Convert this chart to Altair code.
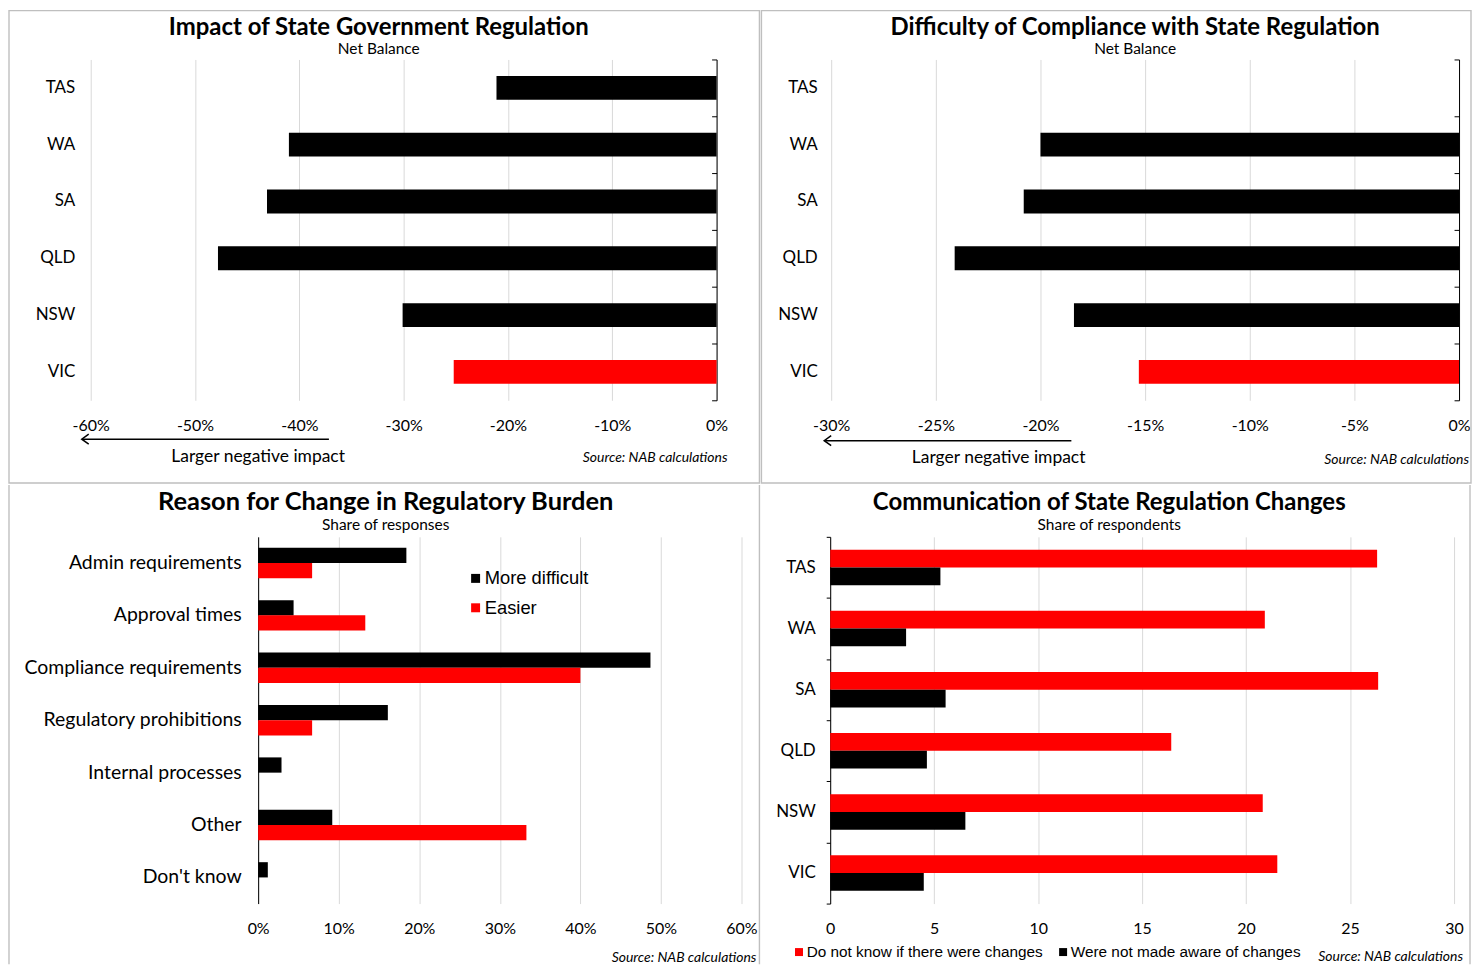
import altair as alt
import pandas as pd

# ---------------- data ----------------
states = ["TAS", "WA", "SA", "QLD", "NSW", "VIC"]
impact = [-21.1, -41.0, -43.1, -47.8, -30.1, -25.2]
difficulty = [0.0, -20.0, -20.8, -24.1, -18.4, -15.3]

reasons = ["Admin requirements", "Approval times", "Compliance requirements",
           "Regulatory prohibitions", "Internal processes", "Other", "Don't know"]
more_difficult = [18.4, 4.4, 48.7, 16.1, 2.9, 9.2, 1.2]
easier = [6.7, 13.3, 40.0, 6.7, 0.0, 33.3, 0.0]
series3 = ["More difficult", "Easier"]

comm_states = ["TAS", "WA", "SA", "QLD", "NSW", "VIC"]
dont_know = [26.3, 20.9, 26.35, 16.4, 20.8, 21.5]
not_aware = [5.3, 3.65, 5.55, 4.65, 6.5, 4.5]
series4 = ["Do not know if there were changes", "Were not made aware of changes"]

ticks_p1 = [-60, -50, -40, -30, -20, -10, 0]
ticks_p2 = [-30, -25, -20, -15, -10, -5, 0]
ticks_p3 = [0, 10, 20, 30, 40, 50, 60]
ticks_p4 = [0, 5, 10, 15, 20, 25, 30]

FONT = "Lato"
LEGFONT = "Liberation Sans"
GRID = "#d9d9d9"
BORDER = "#bfbfbf"


def one():
    return alt.Data(values=[{"k": 0}])


def frame(x1, x2, y1, y2):
    return alt.Chart(one()).mark_rect(
        fill="transparent", stroke=BORDER, strokeWidth=1.4
    ).encode(x=alt.value(x1), x2=alt.value(x2), y=alt.value(y1), y2=alt.value(y2))


def bounds_box(x1, x2, y1, y2):
    return alt.Chart(one()).mark_rect(fill="transparent", strokeWidth=0).encode(
        x=alt.value(x1), x2=alt.value(x2), y=alt.value(y1), y2=alt.value(y2))


def vline(x, y1, y2):
    return alt.Chart(one()).mark_rule(color=BORDER, strokeWidth=1.4).encode(
        x=alt.value(x), y=alt.value(y1), y2=alt.value(y2))


def note(txt, x, y, align="center", size=16, style="normal", weight="normal",
         baseline="middle"):
    return alt.Chart(one()).mark_text(
        text=txt, align=align, baseline=baseline, font=FONT, fontSize=size,
        fontStyle=style, fontWeight=weight, color="black"
    ).encode(x=alt.value(x), y=alt.value(y))


def heading(title, sub, x, y_title, y_sub, size):
    return [note(title, x, y_title, size=size, weight="bold", baseline="alphabetic"),
            note(sub, x, y_sub, size=15.5, baseline="alphabetic")]


def arrow(x_tip, x_end, y):
    shaft = alt.Chart(one()).mark_rule(color="black", strokeWidth=1.5).encode(
        x=alt.value(x_tip + 1), x2=alt.value(x_end), y=alt.value(y))
    head = alt.Chart(one()).mark_point(
        shape="M 0.4 -1 L -1 0 L 0.4 1", size=100, filled=False,
        color="black", strokeWidth=1.5, opacity=1
    ).encode(x=alt.value(x_tip + 5), y=alt.value(y))
    return [shaft, head]


def xaxis(vals, fmt_pct=True):
    kw = dict(values=vals, domain=False, ticks=False, grid=True, gridColor=GRID,
              gridWidth=1, labelPadding=17, labelFont=FONT, labelFontSize=16,
              labelColor="black", labelFlush=False, labelOverlap=False, title=None)
    if fmt_pct:
        kw["labelExpr"] = "datum.value + '%'"
    else:
        kw["format"] = "d"
    return alt.Axis(**kw)


def net_panel(values, tick_vals, W, H, title, tpos, label_pad, box, arr, txt, src):
    df = pd.DataFrame({"state": states, "value": values})
    base = alt.Chart(df)
    x = alt.X("value:Q", scale=alt.Scale(domain=[tick_vals[0], tick_vals[-1]], nice=False),
              axis=xaxis(tick_vals))
    bars = base.transform_filter(alt.datum.value != 0).mark_bar().encode(
        x=x,
        y=alt.Y("state:N", sort=states, scale=alt.Scale(domain=states, paddingInner=0.58,
                                                       paddingOuter=0.29),
                axis=alt.Axis(orient="left", domain=False, ticks=False, labelPadding=label_pad,
                              labelFont=FONT, labelFontSize=17, labelColor="black", title=None)),
        color=alt.condition(alt.datum.state == "VIC", alt.value("#ff0000"), alt.value("#000000")),
    )
    # invisible layer carrying the value-axis line at 0% with ticks at category boundaries
    axisline = base.mark_bar(opacity=0).encode(
        x=x,
        y=alt.Y("state:N", sort=states, scale=alt.Scale(domain=states, paddingInner=0,
                                                       paddingOuter=0),
                axis=alt.Axis(orient="left", offset=-W, labels=False, domain=True,
                              domainColor="black", domainWidth=1, ticks=True, tickBand="extent",
                              tickSize=5, tickColor="black", title=None)),
    )
    layers = [frame(*box), axisline, bars] + arrow(*arr) + [
        note("Larger negative impact", txt[0], txt[1], size=17.5),
        note("Source: NAB calculations", src[0], src[1], align="right", size=14, style="italic"),
    ] + heading(title[0], title[1], *tpos)
    return (alt.layer(*layers).resolve_scale(y="independent").resolve_axis(y="independent")
            .properties(width=W, height=H))


p1 = net_panel(impact, ticks_p1, 628, 342,
               ("Impact of State Government Regulation", "Net Balance"),
               (289, -25, -5.3, 24), 16,
               (-82, 671, -49, 425), (-9, 239, 381), (168, 399), (639, 400))
p2 = net_panel(difficulty, ticks_p2, 630, 342,
               ("Difficulty of Compliance with State Regulation", "Net Balance"),
               (305, -25, -5.3, 24), 14,
               (-70, 642, -49, 425), (-7, 241, 382.5), (168, 400), (640, 402))


def paired_bars(df, cat, cats, sfield, snames, colors, x, y_axis, legend, half, bar_h):
    # band scale without padding: ticks sit on category boundaries, bars sized explicitly
    y = alt.Y(f"{cat}:N", sort=cats, scale=alt.Scale(paddingInner=0, paddingOuter=0),
              axis=y_axis)
    color = alt.Color(f"{sfield}:N", scale=alt.Scale(domain=snames, range=colors), legend=legend)
    layers = []
    for name, off in zip(snames, (-half, half)):
        layers.append(
            alt.Chart(df).transform_filter(alt.datum[sfield] == name)
            .mark_bar(height=bar_h, yOffset=off)
            .encode(x=x, y=y, color=color)
        )
    return layers


# ---------- panel 3 (plot origin extended left so both columns share an origin) ----------
rows3 = []
for i, r in enumerate(reasons):
    rows3.append({"reason": r, "series": series3[0], "value": more_difficult[i]})
    rows3.append({"reason": r, "series": series3[1], "value": easier[i]})
df3 = pd.DataFrame(rows3)

W3 = 653
ZERO3 = 168  # pixel position of 0% inside the widened plot
x3_min = -ZERO3 * 60.0 / (W3 - ZERO3)

x3 = alt.X("value:Q", scale=alt.Scale(domain=[x3_min, 60], nice=False, zero=False),
           axis=xaxis(ticks_p3))
y3_axis = alt.Axis(orient="left", offset=-ZERO3, domain=True, domainColor="black",
                   domainWidth=1, ticks=False, labelPadding=17, labelFont=FONT,
                   labelFontSize=19.5, labelLimit=400, labelColor="black", title=None)
leg3 = alt.Legend(orient="none", legendX=377, legendY=32.5, title=None,
                  symbolType="square", symbolSize=81, symbolStrokeWidth=0,
                  labelFont=LEGFONT, labelFontSize=18.4, labelColor="black",
                  labelOffset=0, rowPadding=10.5, padding=0)
bars3 = paired_bars(df3, "reason", reasons, "series", series3, ["#000000", "#ff0000"],
                    x3, y3_axis, leg3, 7.6, 15.3)

p3 = alt.layer(
    bounds_box(-82, 671, -52, 429), vline(-82, -52, 429), vline(671, -52, 429), *bars3,
    note("Source: NAB calculations", 668, 423, align="right", size=14, style="italic"),
    *heading("Reason for Change in Regulatory Burden", "Share of responses", 296, -27.3, -7.3, 25.5),
).properties(width=W3, height=368)

# ---------- panel 4 ----------
rows4 = []
for i, s in enumerate(comm_states):
    rows4.append({"state": s, "group": series4[0], "value": dont_know[i]})
    rows4.append({"state": s, "group": series4[1], "value": not_aware[i]})
df4 = pd.DataFrame(rows4)

x4 = alt.X("value:Q", scale=alt.Scale(domain=[0, 30], nice=False), axis=xaxis(ticks_p4, False))
y4_axis = alt.Axis(domain=True, domainColor="black", domainWidth=1, ticks=True,
                   tickBand="extent", tickSize=4, tickColor="black", labelPadding=11,
                   labelFont=FONT, labelFontSize=17, labelColor="black", title=None)
leg4 = alt.Legend(orient="none", direction="horizontal", legendX=-39,
                  legendY=408.5, title=None, symbolType="square",
                  symbolSize=64, symbolStrokeWidth=0, labelFont=LEGFONT,
                  labelFontSize=15.4, labelColor="black", labelOffset=0,
                  labelLimit=400, columnPadding=12, padding=0)
bars4 = paired_bars(df4, "state", comm_states, "group", series4, ["#ff0000", "#000000"],
                    x4, y4_axis, leg4, 8.9, 17.8)

p4 = alt.layer(
    bounds_box(-70, 642, -52, 429), vline(642, -52, 429), *bars4,
    note("Source: NAB calculations", 635, 422, align="right", size=14, style="italic"),
    *heading("Communication of State Regulation Changes", "Share of respondents", 280, -27.3, -6.7, 24),
).properties(width=626, height=368)

row1 = alt.hconcat(p1, p2, spacing=0)
row2 = alt.hconcat(p3, p4, spacing=0).resolve_scale(color="independent")
chart = alt.vconcat(row1, row2, spacing=0, padding=0, background="white").resolve_scale(
    color="independent").configure_view(strokeWidth=0)

chart.save("out.html", embed_options={"renderer": "svg", "actions": False})
